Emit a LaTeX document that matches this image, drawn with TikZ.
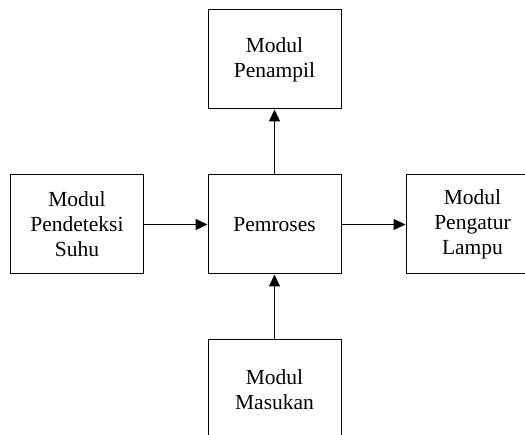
\documentclass[tikz,border=0pt]{standalone}
\usepackage{fontspec}
\setmainfont{Liberation Serif}
\usetikzlibrary{arrows.meta}
\begin{document}
\begin{tikzpicture}[x=1pt,y=1pt,
  modbox/.style={draw, line width=1pt, minimum width=133pt, minimum height=99pt,
    align=center, inner sep=0pt, font=\fontsize{21.5}{25}\selectfont},
  conn/.style={line width=1.5pt, -{Triangle[length=12pt,width=11pt]}}]
\useasboundingbox (0,0) rectangle (525,434);
\clip (0,0) rectangle (525,434);
\node[modbox] (left) at (77,209.5) {Modul\\Pendeteksi\\Suhu};
\node[modbox] (proc) at (274.5,209.5) {Pemroses};
\node[modbox] (top) at (274.5,374.5) {Modul\\Penampil};
\node[modbox] (right) at (472.5,209.5) {Modul\\Pengatur\\Lampu};
\node[modbox] (bot) at (274.5,44.5) {Modul\\Masukan};
\draw[conn] (left) -- (proc);
\draw[conn] (proc) -- (right);
\draw[conn] (proc) -- (top);
\draw[conn] (bot) -- (proc);
\end{tikzpicture}
\end{document}
